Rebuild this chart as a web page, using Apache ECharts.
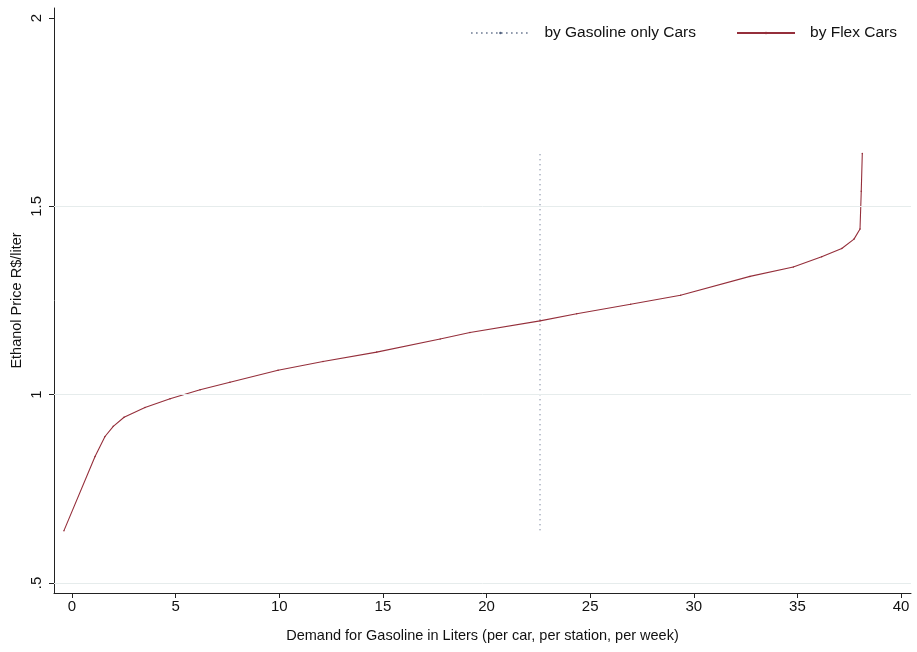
<!DOCTYPE html>
<html>
<head>
<meta charset="utf-8">
<script src="https://cdn.jsdelivr.net/npm/echarts@6/dist/echarts.min.js"></script>
<style>html,body{margin:0;padding:0;background:#fff}#c{width:917px;height:652px}</style>
</head>
<body>
<div id="c"></div>
<script>
// Flex cars demand curve: [quantity (liters), ethanol price]
const flexX = [-0.39, 1.11, 1.59, 1.99, 2.51, 3.52, 4.73, 6.18, 7.62, 9.94, 12.11, 14.70, 17.76, 19.20, 22.58, 24.35, 26.95, 29.36, 32.71, 34.80, 36.17, 37.14, 37.73, 38.02, 38.08, 38.13];
const flexY = [0.639, 0.836, 0.889, 0.916, 0.940, 0.966, 0.989, 1.013, 1.033, 1.065, 1.088, 1.113, 1.148, 1.165, 1.196, 1.215, 1.240, 1.264, 1.314, 1.339, 1.366, 1.388, 1.413, 1.440, 1.540, 1.640];
// Gasoline-only cars demand: vertical line
const gasX = [22.58, 22.58];
const gasY = [0.64, 1.64];
const xTicks = [0, 5, 10, 15, 20, 25, 30, 35, 40];
const yTicks = [0.5, 1, 1.5, 2];
const yGrid = [0.5, 1, 1.5];
const seriesNames = ['by Gasoline only Cars', 'by Flex Cars'];

const font = 'Liberation Sans, Arial, sans-serif';
const flexColor = '#952f3b';
const gasColor = '#4e5e7c';

const chart = echarts.init(document.getElementById('c'), null, {renderer: 'canvas'});
chart.setOption({
  backgroundColor: '#fff',
  animation: false,
  textStyle: {fontFamily: font},
  grid: {left: 54, right: 6, top: 8, bottom: 59, containLabel: false, outerBoundsMode: 'none'},
  legend: {
    right: 15, top: 20, itemWidth: 58, itemHeight: 3, itemGap: 40,
    textStyle: {fontSize: 15.5, color: '#111', fontFamily: font, padding: [0, 0, 0, 10]},
    data: seriesNames
  },
  xAxis: {
    type: 'value', min: -0.87, max: 40.48,
    name: 'Demand for Gasoline in Liters (per car, per station, per week)',
    nameLocation: 'middle', nameGap: 35, nameMoveOverlap: false,
    nameTextStyle: {fontSize: 14.5, color: '#111', fontFamily: font},
    axisLine: {show: true, onZero: false, lineStyle: {color: '#222', width: 1}},
    axisTick: {show: true, length: 5, customValues: xTicks, lineStyle: {color: '#222'}},
    axisLabel: {customValues: xTicks, fontSize: 15, color: '#111', margin: 6, fontFamily: font},
    splitLine: {show: false}
  },
  yAxis: {
    type: 'value', min: 0.4735, max: 2.0265,
    name: 'Ethanol Price R$/liter',
    nameLocation: 'middle', nameGap: 30, nameMoveOverlap: false,
    nameTextStyle: {fontSize: 14.5, color: '#111', fontFamily: font},
    axisLine: {show: true, onZero: false, lineStyle: {color: '#222', width: 1}},
    axisTick: {show: true, length: 5, customValues: yTicks, lineStyle: {color: '#222'}},
    axisLabel: {customValues: yTicks, rotate: 90, fontSize: 15, color: '#111', margin: 10, fontFamily: font,
      formatter: v => (v === 0.5 ? '.5' : String(v))},
    splitLine: {show: false}
  },
  series: [
    {
      name: seriesNames[0], type: 'line', symbol: 'none',
      data: gasX.map((x, i) => [x, gasY[i]]),
      lineStyle: {color: gasColor, width: 1, type: [1, 4]},
      itemStyle: {color: gasColor},
      markLine: {
        silent: true, symbol: 'none', label: {show: false},
        lineStyle: {color: '#e6ecec', width: 1, type: 'solid'},
        data: yGrid.map(v => ({yAxis: v}))
      },
      z: 3
    },
    {
      name: seriesNames[1], type: 'line', symbol: 'circle', symbolSize: 1.5,
      data: flexX.map((x, i) => [x, flexY[i]]),
      lineStyle: {color: flexColor, width: 1.1},
      itemStyle: {color: flexColor},
      z: 4
    }
  ]
});
</script>
</body>
</html>
